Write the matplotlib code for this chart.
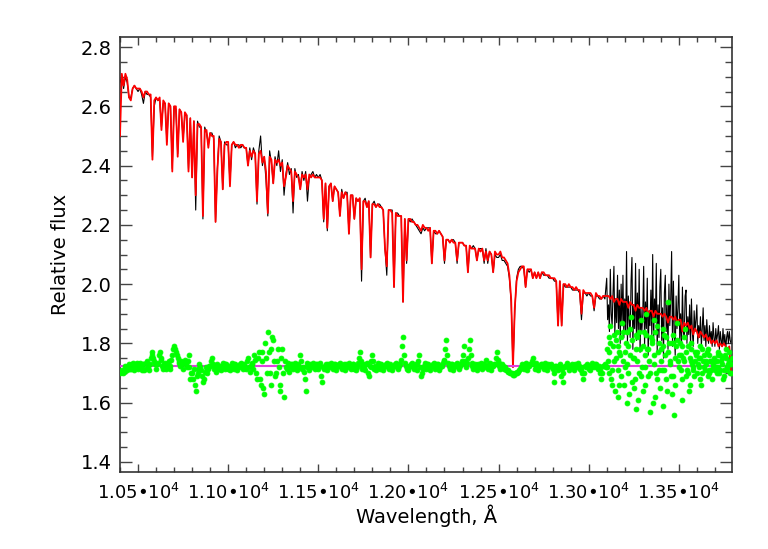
import numpy as np
import matplotlib
matplotlib.use("Agg")
import matplotlib.pyplot as plt
from matplotlib.ticker import MultipleLocator, FixedLocator, FixedFormatter

plt.rcParams["font.family"] = ["DejaVu Sans"]
plt.rcParams["mathtext.fontset"] = "dejavusans"

# spectrum sampled every 10 A, 10400 .. 13790
wave = np.arange(10400, 13800, 10)

model_flux = [
    2.50, 2.71, 2.67, 2.71, 2.69, 2.63, 2.62, 2.66, 2.67, 2.66,
    2.66, 2.66, 2.65, 2.63, 2.65, 2.65, 2.64, 2.64, 2.42, 2.62,
    2.63, 2.62, 2.63, 2.52, 2.62, 2.61, 2.47, 2.61, 2.60, 2.38,
    2.60, 2.60, 2.43, 2.59, 2.58, 2.48, 2.58, 2.57, 2.38, 2.56,
    2.36, 2.55, 2.30, 2.54, 2.54, 2.53, 2.23, 2.52, 2.52, 2.46,
    2.51, 2.50, 2.50, 2.21, 2.38, 2.49, 2.48, 2.32, 2.47, 2.48,
    2.48, 2.33, 2.47, 2.48, 2.47, 2.47, 2.46, 2.47, 2.47, 2.46,
    2.46, 2.40, 2.45, 2.43, 2.45, 2.44, 2.28, 2.44, 2.45, 2.41,
    2.43, 2.38, 2.24, 2.43, 2.42, 2.34, 2.42, 2.41, 2.42, 2.40,
    2.41, 2.33, 2.36, 2.40, 2.39, 2.38, 2.28, 2.38, 2.37, 2.36,
    2.32, 2.37, 2.36, 2.37, 2.32, 2.37, 2.36, 2.37, 2.36, 2.36,
    2.36, 2.36, 2.35, 2.22, 2.34, 2.19, 2.33, 2.34, 2.28, 2.33,
    2.32, 2.31, 2.23, 2.31, 2.29, 2.31, 2.30, 2.17, 2.30, 2.30,
    2.22, 2.29, 2.28, 2.29, 2.05, 2.28, 2.28, 2.26, 2.28, 2.09,
    2.27, 2.27, 2.26, 2.27, 2.26, 2.26, 2.25, 2.12, 2.06, 2.25,
    2.25, 2.24, 1.99, 2.24, 2.23, 2.23, 2.23, 1.94, 2.22, 2.08,
    2.22, 2.22, 2.21, 2.21, 2.20, 2.20, 2.19, 2.18, 2.20, 2.19,
    2.19, 2.18, 2.19, 2.07, 2.18, 2.18, 2.17, 2.18, 2.17, 2.16,
    2.08, 2.15, 2.15, 2.14, 2.15, 2.14, 2.14, 2.08, 2.14, 2.14,
    2.14, 2.13, 2.13, 2.04, 2.13, 2.12, 2.12, 2.12, 2.08, 2.12,
    2.11, 2.12, 2.08, 2.11, 2.08, 2.11, 2.10, 2.04, 2.11, 2.10,
    2.10, 2.11, 2.09, 2.09, 2.08, 2.07, 2.03, 1.95, 1.72, 1.92,
    2.01, 2.04, 2.05, 2.06, 2.06, 1.99, 2.05, 2.05, 2.05, 2.02,
    2.04, 2.02, 2.04, 2.02, 2.04, 2.04, 2.03, 2.03, 2.03, 2.02,
    2.02, 2.02, 2.01, 1.86, 2.01, 1.86, 2.00, 2.00, 1.99, 2.00,
    1.99, 1.99, 1.98, 1.99, 1.98, 1.98, 1.90, 1.98, 1.97, 1.97,
    1.97, 1.97, 1.96, 1.92, 1.97, 1.96, 1.96, 1.95, 1.96, 1.96,
    1.96, 1.96, 1.95, 1.96, 1.94, 1.95, 1.95, 1.93, 1.95, 1.94,
    1.94, 1.94, 1.92, 1.94, 1.93, 1.93, 1.91, 1.93, 1.92, 1.92,
    1.92, 1.91, 1.92, 1.90, 1.91, 1.91, 1.89, 1.91, 1.90, 1.90,
    1.90, 1.89, 1.90, 1.89, 1.87, 1.89, 1.89, 1.88, 1.89, 1.87,
    1.88, 1.88, 1.84, 1.87, 1.86, 1.87, 1.85, 1.86, 1.83, 1.85,
    1.84, 1.82, 1.84, 1.83, 1.82, 1.83, 1.81, 1.82, 1.80, 1.81,
    1.80, 1.81, 1.79, 1.80, 1.79, 1.80, 1.79, 1.78, 1.79, 1.70,
]

# observed spectrum: 10 A steps up to 13090, then 5 A steps in the noisy end
obs_wave = np.concatenate([np.arange(10400, 13100, 10),
                           np.arange(13100, 13800, 5)])
obs_flux = [
    2.68, 2.70, 2.66, 2.70, 2.68, 2.63, 2.63, 2.66, 2.67, 2.66,
    2.65, 2.66, 2.64, 2.61, 2.65, 2.64, 2.64, 2.63, 2.43, 2.60,
    2.63, 2.62, 2.62, 2.53, 2.61, 2.61, 2.48, 2.61, 2.60, 2.39,
    2.60, 2.59, 2.44, 2.59, 2.58, 2.49, 2.57, 2.57, 2.39, 2.56,
    2.36, 2.55, 2.25, 2.55, 2.53, 2.53, 2.22, 2.53, 2.51, 2.47,
    2.51, 2.51, 2.49, 2.21, 2.39, 2.50, 2.48, 2.32, 2.48, 2.47,
    2.47, 2.34, 2.47, 2.48, 2.46, 2.47, 2.47, 2.46, 2.47, 2.46,
    2.46, 2.40, 2.46, 2.42, 2.46, 2.44, 2.27, 2.45, 2.50, 2.40,
    2.43, 2.35, 2.23, 2.45, 2.41, 2.34, 2.43, 2.40, 2.45, 2.38,
    2.42, 2.30, 2.37, 2.41, 2.37, 2.39, 2.24, 2.39, 2.36, 2.37,
    2.32, 2.38, 2.35, 2.38, 2.28, 2.36, 2.37, 2.38, 2.36, 2.37,
    2.36, 2.37, 2.35, 2.21, 2.34, 2.18, 2.33, 2.34, 2.28, 2.33,
    2.32, 2.31, 2.23, 2.32, 2.29, 2.31, 2.31, 2.17, 2.30, 2.30,
    2.22, 2.29, 2.28, 2.29, 2.01, 2.28, 2.29, 2.26, 2.28, 2.09,
    2.27, 2.28, 2.26, 2.27, 2.27, 2.26, 2.25, 2.12, 2.03, 2.25,
    2.25, 2.25, 1.99, 2.24, 2.24, 2.23, 2.23, 1.94, 2.22, 2.07,
    2.22, 2.21, 2.22, 2.21, 2.20, 2.19, 2.18, 2.17, 2.19, 2.18,
    2.19, 2.19, 2.19, 2.07, 2.18, 2.17, 2.17, 2.18, 2.17, 2.16,
    2.07, 2.15, 2.15, 2.14, 2.15, 2.15, 2.14, 2.07, 2.14, 2.14,
    2.14, 2.13, 2.13, 2.04, 2.13, 2.12, 2.13, 2.12, 2.08, 2.12,
    2.12, 2.12, 2.07, 2.12, 2.07, 2.11, 2.10, 2.04, 2.10, 2.09,
    2.09, 2.10, 2.08, 2.08, 2.07, 2.06, 2.02, 1.94, 1.72, 1.91,
    2.02, 2.05, 2.06, 2.06, 2.05, 1.99, 2.05, 2.04, 2.05, 2.02,
    2.04, 2.02, 2.04, 2.02, 2.04, 2.03, 2.03, 2.03, 2.02, 2.02,
    2.02, 2.01, 2.01, 1.86, 2.01, 1.86, 2.00, 1.99, 1.99, 1.99,
    1.99, 1.98, 1.98, 1.98, 1.98, 1.97, 1.88, 1.97, 1.97, 1.96,
    1.97, 1.96, 1.96, 1.91, 1.96, 1.96, 1.95, 1.95, 1.96, 1.95,
    # 13100 .. 13795, every 5 A
    2.02, 1.88, 1.93, 1.84, 2.05, 1.90, 1.86, 1.97, 2.06, 1.83,
    1.95, 1.87, 2.03, 1.85, 1.98, 1.80, 2.00, 1.86, 2.03, 1.82,
    1.95, 1.84, 2.11, 1.80, 1.96, 1.88, 1.82, 2.01, 2.09, 1.78,
    1.93, 1.85, 2.07, 1.81, 1.97, 1.83, 2.05, 1.77, 1.92, 1.84,
    1.90, 2.06, 1.79, 1.94, 1.85, 2.02, 1.76, 1.91, 1.86, 1.98,
    1.83, 2.10, 1.80, 1.95, 1.87, 2.07, 1.77, 1.93, 1.82, 1.99,
    2.05, 1.81, 1.92, 1.75, 1.97, 2.03, 1.84, 1.93, 1.78, 2.00,
    1.86, 1.95, 2.11, 1.79, 2.01, 1.84, 1.76, 1.96, 1.85, 1.92,
    2.03, 1.81, 1.90, 1.79, 1.99, 1.85, 1.82, 1.96, 1.98, 1.80,
    1.89, 1.83, 1.93, 1.79, 1.95, 1.84, 1.79, 1.91, 1.84, 1.88,
    1.93, 1.80, 1.86, 1.82, 1.89, 1.79, 1.85, 1.92, 1.81, 1.86,
    1.79, 1.88, 1.83, 1.80, 1.86, 1.81, 1.84, 1.79, 1.87, 1.82,
    1.79, 1.85, 1.81, 1.83, 1.86, 1.78, 1.84, 1.81, 1.79, 1.85,
    1.80, 1.83, 1.78, 1.82, 1.84, 1.80, 1.84, 1.81, 1.80, 1.82,
]

# residuals (obs - model) shifted to the 1.725 level, on the 10 A grid
resid_a = [
    1.70, 1.71, 1.705, 1.725, 1.71, 1.73, 1.715, 1.735, 1.71, 1.73,
    1.715, 1.735, 1.71, 1.73, 1.715, 1.74, 1.71, 1.75, 1.77, 1.74,
    1.715, 1.735, 1.77, 1.745, 1.715, 1.735, 1.72, 1.74, 1.715, 1.76,
    1.79, 1.77, 1.75, 1.735, 1.74, 1.715, 1.745, 1.72, 1.76, 1.68,
    1.70, 1.715, 1.64, 1.70, 1.73, 1.71, 1.67, 1.705, 1.70, 1.715,
    1.725, 1.75, 1.715, 1.705, 1.73, 1.715, 1.71, 1.735, 1.715, 1.73,
    1.715, 1.71, 1.735, 1.715, 1.73, 1.71, 1.72, 1.735, 1.715, 1.73,
    1.715, 1.75, 1.705, 1.735, 1.715, 1.745, 1.68, 1.77, 1.66, 1.74,
    1.63, 1.75, 1.84, 1.70, 1.78, 1.81, 1.69, 1.74, 1.72, 1.66,
    1.78, 1.62, 1.72, 1.735, 1.705, 1.73, 1.715, 1.735, 1.71, 1.725,
    1.76, 1.715, 1.705, 1.64, 1.735, 1.71, 1.725, 1.735, 1.715, 1.73,
    1.715, 1.735, 1.67, 1.715, 1.73, 1.71, 1.725, 1.735, 1.715, 1.73,
    1.71, 1.725, 1.735, 1.715, 1.73, 1.71, 1.725, 1.735, 1.715, 1.73,
    1.715, 1.71, 1.735, 1.77, 1.715, 1.73, 1.71, 1.735, 1.69, 1.72,
    1.76, 1.715, 1.71, 1.735, 1.715, 1.73, 1.71, 1.725, 1.735, 1.715,
    1.73, 1.71, 1.725, 1.735, 1.715, 1.73, 1.745, 1.82, 1.735, 1.715,
    1.71, 1.725, 1.735, 1.715, 1.73, 1.71, 1.76, 1.69, 1.715, 1.735,
    1.715, 1.73, 1.71, 1.725, 1.735, 1.715, 1.73, 1.71, 1.725, 1.735,
    1.745, 1.81, 1.735, 1.715, 1.73, 1.71, 1.725, 1.735, 1.715, 1.73,
    1.735, 1.79, 1.72, 1.75, 1.81, 1.735, 1.715, 1.73, 1.71, 1.725,
    1.735, 1.715, 1.73, 1.745, 1.715, 1.735, 1.71, 1.725, 1.73, 1.77,
    1.735, 1.715, 1.73, 1.715, 1.71, 1.705, 1.705, 1.70, 1.695, 1.70,
    1.70, 1.705, 1.715, 1.73, 1.715, 1.735, 1.71, 1.725, 1.73, 1.75,
    1.715, 1.735, 1.71, 1.725, 1.73, 1.715, 1.735, 1.71, 1.725, 1.73,
    1.715, 1.67, 1.725, 1.71, 1.73, 1.715, 1.67, 1.725, 1.735, 1.71,
    1.725, 1.73, 1.71, 1.725, 1.735, 1.715, 1.71, 1.68, 1.725, 1.73,
    1.715, 1.71, 1.735, 1.72, 1.73, 1.715, 1.71, 1.68, 1.725, 1.73,
    1.78, 1.70, 1.86, 1.66, 1.74, 1.81, 1.62, 1.77, 1.69, 1.84,
    1.72, 1.60, 1.79, 1.85, 1.67, 1.75, 1.58, 1.82, 1.70, 1.88,
    1.64, 1.76, 1.90, 1.69, 1.57, 1.80, 1.73, 1.62, 1.86, 1.71,
    1.78, 1.59, 1.83, 1.68, 1.94, 1.74, 1.63, 1.80, 1.66, 1.87,
    1.72, 1.76, 1.61, 1.82, 1.69, 1.79, 1.66, 1.74, 1.71, 1.77,
    1.70, 1.75, 1.68, 1.78, 1.72, 1.74, 1.69, 1.76, 1.71, 1.73,
    1.74, 1.70, 1.76, 1.71, 1.75, 1.69, 1.78, 1.72, 1.74, 1.73,
]

# residuals on the half-step grid, 10405 .. 13795
wave_b = np.arange(10405, 13800, 10)
resid_b = [
    1.705, 1.70, 1.715, 1.72, 1.725, 1.715, 1.73, 1.72, 1.725, 1.735,
    1.725, 1.72, 1.73, 1.71, 1.735, 1.72, 1.73, 1.76, 1.75, 1.73,
    1.73, 1.76, 1.75, 1.725, 1.73, 1.715, 1.735, 1.725, 1.745, 1.78,
    1.78, 1.76, 1.74, 1.725, 1.73, 1.735, 1.73, 1.74, 1.72, 1.70,
    1.68, 1.66, 1.69, 1.715, 1.72, 1.69, 1.68, 1.72, 1.715, 1.725,
    1.74, 1.73, 1.72, 1.715, 1.72, 1.725, 1.72, 1.725, 1.73, 1.72,
    1.725, 1.72, 1.725, 1.73, 1.72, 1.725, 1.73, 1.72, 1.725, 1.72,
    1.74, 1.72, 1.725, 1.73, 1.76, 1.70, 1.75, 1.68, 1.77, 1.65,
    1.80, 1.70, 1.77, 1.66, 1.82, 1.74, 1.70, 1.78, 1.64, 1.75,
    1.70, 1.74, 1.715, 1.725, 1.72, 1.73, 1.72, 1.725, 1.73, 1.72,
    1.74, 1.72, 1.68, 1.72, 1.725, 1.73, 1.72, 1.725, 1.72, 1.73,
    1.725, 1.69, 1.72, 1.725, 1.72, 1.73, 1.72, 1.725, 1.73, 1.72,
    1.725, 1.73, 1.72, 1.725, 1.72, 1.73, 1.72, 1.725, 1.72, 1.73,
    1.725, 1.72, 1.75, 1.74, 1.725, 1.72, 1.73, 1.70, 1.725, 1.74,
    1.74, 1.725, 1.72, 1.725, 1.73, 1.72, 1.725, 1.73, 1.72, 1.725,
    1.72, 1.725, 1.73, 1.72, 1.725, 1.73, 1.79, 1.76, 1.725, 1.72,
    1.725, 1.73, 1.72, 1.725, 1.73, 1.74, 1.72, 1.70, 1.725, 1.72,
    1.73, 1.72, 1.725, 1.73, 1.72, 1.725, 1.73, 1.72, 1.725, 1.74,
    1.78, 1.76, 1.725, 1.73, 1.72, 1.725, 1.73, 1.72, 1.725, 1.74,
    1.76, 1.74, 1.735, 1.78, 1.76, 1.725, 1.72, 1.725, 1.73, 1.72,
    1.725, 1.73, 1.72, 1.725, 1.73, 1.72, 1.725, 1.73, 1.75, 1.745,
    1.725, 1.72, 1.725, 1.72, 1.71, 1.71, 1.70, 1.70, 1.695, 1.70,
    1.705, 1.71, 1.72, 1.725, 1.73, 1.72, 1.725, 1.73, 1.74, 1.73,
    1.725, 1.72, 1.725, 1.73, 1.72, 1.725, 1.72, 1.73, 1.725, 1.72,
    1.70, 1.725, 1.72, 1.725, 1.69, 1.70, 1.72, 1.725, 1.72, 1.725,
    1.72, 1.725, 1.73, 1.72, 1.725, 1.72, 1.70, 1.70, 1.72, 1.725,
    1.725, 1.72, 1.725, 1.73, 1.72, 1.725, 1.70, 1.70, 1.725, 1.72,
    1.74, 1.82, 1.68, 1.79, 1.64, 1.84, 1.71, 1.76, 1.87, 1.66,
    1.80, 1.73, 1.63, 1.89, 1.75, 1.68, 1.83, 1.61, 1.78, 1.72,
    1.84, 1.66, 1.78, 1.74, 1.82, 1.60, 1.88, 1.70, 1.77, 1.65,
    1.71, 1.85, 1.76, 1.64, 1.80, 1.69, 1.83, 1.56, 1.79, 1.74,
    1.80, 1.68, 1.75, 1.85, 1.71, 1.64, 1.78, 1.73, 1.69, 1.76,
    1.73, 1.79, 1.66, 1.74, 1.71, 1.77, 1.70, 1.74, 1.68, 1.75,
    1.72, 1.77, 1.70, 1.74, 1.68, 1.76, 1.71, 1.73, 1.70, 1.75,
]

# one more set of residual points in the noisy red end, 13100 .. 13790
wave_c = np.arange(13100, 13800, 10)
resid_c = [
    1.72, 1.77, 1.80, 1.71, 1.83, 1.75, 1.79, 1.66, 1.82, 1.74,
    1.77, 1.84, 1.70, 1.76, 1.81, 1.65, 1.78, 1.74, 1.84, 1.69,
    1.79, 1.72, 1.83, 1.78, 1.70, 1.81, 1.76, 1.84, 1.68, 1.80,
    1.74, 1.79, 1.71, 1.82, 1.77, 1.73, 1.80, 1.69, 1.75, 1.81,
    1.76, 1.71, 1.79, 1.74, 1.77, 1.70, 1.75, 1.80, 1.72, 1.74,
    1.77, 1.72, 1.75, 1.70, 1.76, 1.73, 1.78, 1.71, 1.74, 1.72,
    1.71, 1.74, 1.72, 1.76, 1.73, 1.71, 1.75, 1.72, 1.77, 1.70,
]

RESID_LEVEL = 1.725

XTICKS = [10500, 11000, 11500, 12000, 12500, 13000, 13500]
XTICK_LABELS = [r"1.05•10$^{4}$", r"1.10•10$^{4}$", r"1.15•10$^{4}$",
                r"1.20•10$^{4}$", r"1.25•10$^{4}$", r"1.30•10$^{4}$",
                r"1.35•10$^{4}$"]


def main():
    fig = plt.figure(figsize=(7.68, 5.49), dpi=100)
    ax = fig.add_axes([120 / 768, 1 - 472 / 549, 612 / 768, 435 / 549])

    ax.plot(obs_wave, obs_flux, color="black", lw=0.8, zorder=2)
    ax.plot(wave, model_flux, color="#ff0000", lw=1.3, zorder=3)
    ax.axhline(RESID_LEVEL, color="#e040e0", lw=1.5, zorder=4)

    green = dict(ls="none", marker="o", ms=3.5, mfc="#00ff00", mec="#00ff00",
                 mew=0.6, zorder=5)
    ax.plot(wave, resid_a, **green)
    ax.plot(wave_b, resid_b, **green)
    ax.plot(wave_c, resid_c, **green)

    ax.set_xlim(10400, 13795)
    ax.set_ylim(1.366, 2.834)

    ax.xaxis.set_major_locator(FixedLocator(XTICKS))
    ax.xaxis.set_major_formatter(FixedFormatter(XTICK_LABELS))
    ax.xaxis.set_minor_locator(MultipleLocator(100))
    ax.yaxis.set_major_locator(MultipleLocator(0.2))
    ax.yaxis.set_minor_locator(MultipleLocator(0.05))
    ax.yaxis.set_major_formatter(plt.FormatStrFormatter("%.1f"))

    ax.tick_params(axis="both", which="both", direction="in",
                   top=True, right=True, color="#444444", labelsize=14)
    ax.tick_params(axis="x", which="major", length=6, width=1, pad=8,
                   labelsize=13)
    ax.tick_params(axis="x", which="minor", length=3.6, width=1)
    ax.tick_params(axis="y", which="major", length=8.5, width=1, pad=6)
    ax.tick_params(axis="y", which="minor", length=5, width=1)
    for sp in ax.spines.values():
        sp.set_color("#333333")
        sp.set_linewidth(1.2)

    ax.set_xlabel("Wavelength, Å", fontsize=14, labelpad=1)
    ax.set_ylabel("Relative flux", fontsize=14, labelpad=8)

    fig.savefig("out.png", dpi=100)


if __name__ == "__main__":
    main()
